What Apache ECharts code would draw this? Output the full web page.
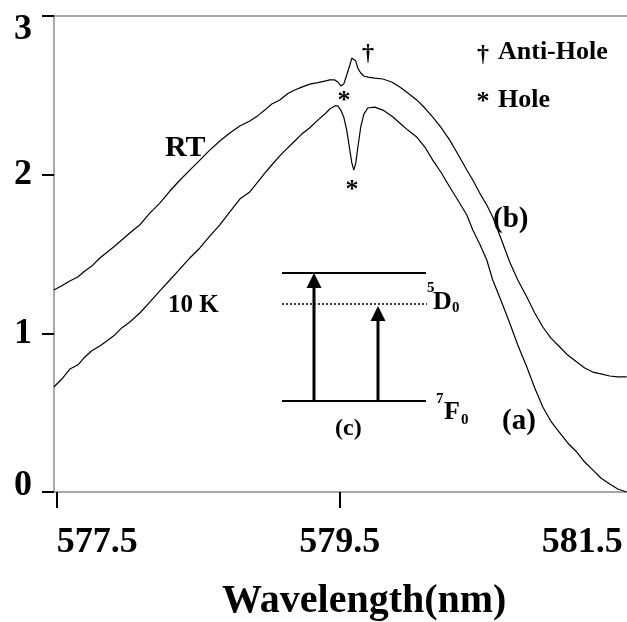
<!DOCTYPE html>
<html>
<head>
<meta charset="utf-8">
<script src="https://cdn.jsdelivr.net/npm/echarts@6/dist/echarts.min.js"></script>
<style>
  html, body { margin: 0; padding: 0; background: #fff; }
  #chart { width: 627px; height: 622px; }
</style>
</head>
<body>
<div id="chart"></div>
<script>
// Emission spectra of the 7F0 -> 5D0 line after spectral hole burning
const wavelength = [577.479, 577.535, 577.592, 577.648, 577.698, 577.747, 577.804, 577.853, 577.910, 577.959,
  578.016, 578.087, 578.157, 578.228, 578.299, 578.369, 578.440, 578.511, 578.581, 578.652,
  578.723, 578.793, 578.864, 578.921, 578.970, 579.019, 579.076, 579.133, 579.182, 579.231,
  579.288, 579.345, 579.394, 579.429, 579.465, 579.486, 579.507, 579.528, 579.549, 579.571,
  579.585, 579.599, 579.613, 579.627, 579.648, 579.670, 579.698, 579.747, 579.804, 579.867,
  579.924, 579.981, 580.044, 580.101, 580.157, 580.214, 580.277, 580.334, 580.398, 580.440,
  580.489, 580.539, 580.581, 580.638, 580.701, 580.758, 580.822, 580.878, 580.935, 580.991,
  581.055, 581.111, 581.175, 581.231, 581.288, 581.345, 581.408, 581.465, 581.528];

// (b) room temperature: anti-hole peak near 579.6 nm
const intensityRT = [1.273, 1.300, 1.330, 1.355, 1.393, 1.424, 1.475, 1.510, 1.550, 1.588,
  1.632, 1.684, 1.758, 1.821, 1.897, 1.965, 2.029, 2.092, 2.155, 2.212,
  2.263, 2.307, 2.338, 2.372, 2.407, 2.445, 2.471, 2.512, 2.534, 2.552,
  2.571, 2.580, 2.590, 2.597, 2.597, 2.584, 2.559, 2.571, 2.628, 2.691,
  2.735, 2.742, 2.716, 2.672, 2.641, 2.622, 2.615, 2.609, 2.603, 2.584,
  2.552, 2.515, 2.471, 2.420, 2.363, 2.300, 2.218, 2.130, 2.029, 1.966,
  1.884, 1.809, 1.733, 1.601, 1.450, 1.336, 1.229, 1.128, 1.040, 0.971,
  0.914, 0.863, 0.819, 0.781, 0.756, 0.744, 0.731, 0.725, 0.725];

// (a) 10 K: burnt hole near 579.6 nm
const intensity10K = [0.662, 0.712, 0.775, 0.800, 0.851, 0.890, 0.920, 0.952, 0.990, 1.034,
  1.071, 1.128, 1.197, 1.268, 1.336, 1.405, 1.475, 1.538, 1.613, 1.683,
  1.765, 1.846, 1.891, 1.954, 2.010, 2.061, 2.118, 2.170, 2.212, 2.256,
  2.296, 2.344, 2.382, 2.414, 2.433, 2.433, 2.407, 2.363, 2.281, 2.155,
  2.074, 2.029, 2.074, 2.168, 2.300, 2.382, 2.420, 2.426, 2.407, 2.370,
  2.326, 2.281, 2.237, 2.174, 2.092, 2.017, 1.922, 1.840, 1.746, 1.651,
  1.563, 1.462, 1.336, 1.210, 1.065, 0.926, 0.788, 0.655, 0.536, 0.447,
  0.372, 0.309, 0.252, 0.189, 0.139, 0.088, 0.050, 0.019, 0.000];

const xTicks = [577.5, 579.5];
const xTickLabels = [577.5, 579.5, 581.5];
const yTickLabels = [0, 1, 2, 3];

const SERIF = "'Liberation Serif', 'Times New Roman', serif";

function pairs(xs, ys) { return xs.map((x, i) => [x, ys[i]]); }

function label(text, x, y, size, align) {
  return {
    type: 'text', x: x, y: y, silent: true,
    style: {
      text: text, fill: '#000', font: 'bold ' + size + 'px ' + SERIF,
      textAlign: align || 'left', textVerticalAlign: 'middle'
    }
  };
}
function seg(x1, y1, x2, y2, w, dash) {
  return {
    type: 'line', silent: true,
    shape: { x1: x1, y1: y1, x2: x2, y2: y2 },
    style: { stroke: '#000', lineWidth: w, lineDash: dash || null }
  };
}
function head(x, yTip) {
  return {
    type: 'polygon', silent: true,
    shape: { points: [[x, yTip], [x - 7.5, yTip + 15], [x + 7.5, yTip + 15]] },
    style: { fill: '#000' }
  };
}

const yLabelFont = { fontFamily: SERIF, fontWeight: 'bold', fontSize: 36, color: '#000' };

const chart = echarts.init(document.getElementById('chart'), null, { renderer: 'canvas' });

chart.setOption({
  animation: false,
  backgroundColor: '#fff',
  grid: { left: 54, right: 0, top: 16, bottom: 130, containLabel: false },
  xAxis: [{
    type: 'value', min: 577.48, max: 581.53,
    axisLine: { show: true, lineStyle: { color: '#8c8c8c', width: 1.5 } },
    axisTick: { show: true, customValues: xTicks, length: 16, lineStyle: { color: '#000', width: 2 } },
    axisLabel: {
      show: true, customValues: xTickLabels, margin: 33,
      formatter: v => v.toFixed(1),
      alignMinLabel: 'left', alignMaxLabel: 'right',
      fontFamily: SERIF, fontWeight: 'bold', fontSize: 36, color: '#000'
    },
    splitLine: { show: false }
  }, {
    type: 'value', position: 'top', min: 577.48, max: 581.53,
    axisLine: { show: true, onZero: false, lineStyle: { color: '#8c8c8c', width: 1.5 } },
    axisTick: { show: false }, axisLabel: { show: false }, splitLine: { show: false }
  }],
  yAxis: {
    type: 'value', min: 0, max: 3,
    axisLine: { show: true, lineStyle: { color: '#8c8c8c', width: 1.5 } },
    axisTick: { show: true, customValues: yTickLabels, length: 12, lineStyle: { color: '#000', width: 2 } },
    axisLabel: {
      show: true, customValues: yTickLabels, margin: 22,
      formatter: v => v === 0 ? '{lo|0}' : (v === 3 ? '{hi|3}' : '{n|' + v + '}'),
      rich: {
        n: Object.assign({}, yLabelFont),
        lo: Object.assign({ padding: [0, 0, 12, 0] }, yLabelFont),
        hi: Object.assign({ padding: [28, 0, 0, 0] }, yLabelFont)
      },
      fontFamily: SERIF, fontWeight: 'bold', fontSize: 36, color: '#000'
    },
    splitLine: { show: false }
  },
  series: [{
    name: 'RT', type: 'line', data: pairs(wavelength, intensityRT),
    showSymbol: false, smooth: false, lineStyle: { color: '#000', width: 1.2 }
  }, {
    name: '10 K', type: 'line', data: pairs(wavelength, intensity10K),
    showSymbol: false, smooth: false, lineStyle: { color: '#000', width: 1.2 }
  }],
  graphic: [
    label('Wavelength(nm)', 222, 602, 40),
    label('RT', 165, 148, 30),
    label('10 K', 168, 306, 25),
    label('(b)', 493, 220, 29),
    label('(a)', 502, 422, 29),
    label('(c)', 335, 429, 24),
    label('\u2020', 368, 54, 24, 'center'),
    label('*', 344, 101, 26, 'center'),
    label('*', 352, 190, 26, 'center'),
    label('\u2020', 483, 55, 24, 'center'),
    label('Anti-Hole', 498, 52, 26),
    label('*', 483, 102, 26, 'center'),
    label('Hole', 498, 100, 26),
    // energy level scheme (c)
    seg(282, 273, 426, 273, 2),
    seg(282, 304, 427, 304, 1.5, [2, 2]),
    seg(282, 401, 426, 401, 2),
    seg(314, 401, 314, 286, 3),
    head(314, 273),
    seg(378, 401, 378, 319, 3),
    head(378, 306),
    label('5', 427, 288, 15),
    label('D', 433, 302, 26),
    label('0', 452, 308, 15),
    label('7', 436, 399, 15),
    label('F', 444, 412, 26),
    label('0', 461, 420, 15)
  ]
});
</script>
</body>
</html>
